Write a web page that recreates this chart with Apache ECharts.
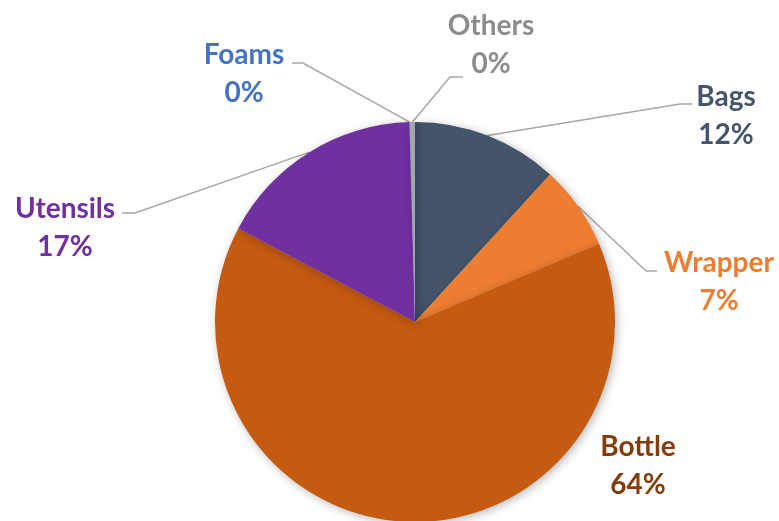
<!DOCTYPE html>
<html>
<head>
<meta charset="utf-8">
<script src="https://cdn.jsdelivr.net/npm/echarts@6/dist/echarts.min.js"></script>
<style>
  html, body { margin: 0; padding: 0; background: #ffffff; }
  #chart { width: 779px; height: 521px; }
</style>
</head>
<body>
<div id="chart"></div>
<script>
// Waste composition by item type (share of total)
const categories = ['Bags', 'Wrapper', 'Bottle', 'Utensils', 'Foams', 'Others'];
const shares = [11.8, 6.8, 64.15, 16.8, 0.05, 0.4];

// Slice fills and label text colours, in category order
const sliceColors = ['#44546A', '#ED7D31', '#C55A11', '#7030A0', '#4472C4', '#A5A5A5'];
const labelColors = ['#44546A', '#ED7D31', '#843C0C', '#7030A0', '#4472C4', '#8C8C8C'];

// Where each label block sits, plus the elbow and end of its leader line
const labelPlacement = [
  { x: 726, y: 116, elbow: [680, 104], end: [692, 104] },
  { x: 719, y: 282, elbow: [646, 271], end: [657, 271] },
  { x: 638, y: 466, elbow: null, end: null },
  { x: 65,  y: 228, elbow: [135, 213], end: [122, 213] },
  { x: 244, y: 74,  elbow: [303, 63],  end: [292, 63] },
  { x: 491, y: 45,  elbow: [450, 77],  end: [463, 77] }
];

const chart = echarts.init(document.getElementById('chart'), null, { renderer: 'canvas' });

const data = categories.map((name, i) => ({
  name: name,
  value: shares[i],
  itemStyle: { color: sliceColors[i] },
  label: { color: labelColors[i] },
  labelLine: { show: labelPlacement[i].elbow !== null }
}));

chart.setOption({
  animation: false,
  series: [{
    type: 'pie',
    center: [415, 322],
    radius: [0, 200],
    startAngle: 90,
    clockwise: true,
    avoidLabelOverlap: false,
    percentPrecision: 0,
    data: data,
    itemStyle: {
      borderWidth: 0,
      shadowBlur: 10,
      shadowColor: 'rgba(0,0,0,0.28)',
      shadowOffsetX: 2,
      shadowOffsetY: 2
    },
    label: {
      show: true,
      position: 'outside',
      formatter: '{b}\n{d}%',
      fontFamily: 'Lato',
      fontWeight: 'bold',
      fontSize: 28,
      lineHeight: 38,
      align: 'center'
    },
    labelLine: {
      show: true,
      length: 10,
      length2: 10,
      smooth: false,
      lineStyle: { color: '#A6A6A6', width: 1.5 }
    },
    labelLayout: function (params) {
      const p = labelPlacement[params.dataIndex];
      const out = { x: p.x, y: p.y, align: 'center', verticalAlign: 'middle', hideOverlap: false, moveOverlap: null };
      if (p.elbow && params.labelLinePoints) {
        const pts = params.labelLinePoints;
        out.labelLinePoints = [pts[0], p.elbow.slice(), p.end.slice()];
      }
      return out;
    }
  }]
});
</script>
</body>
</html>
